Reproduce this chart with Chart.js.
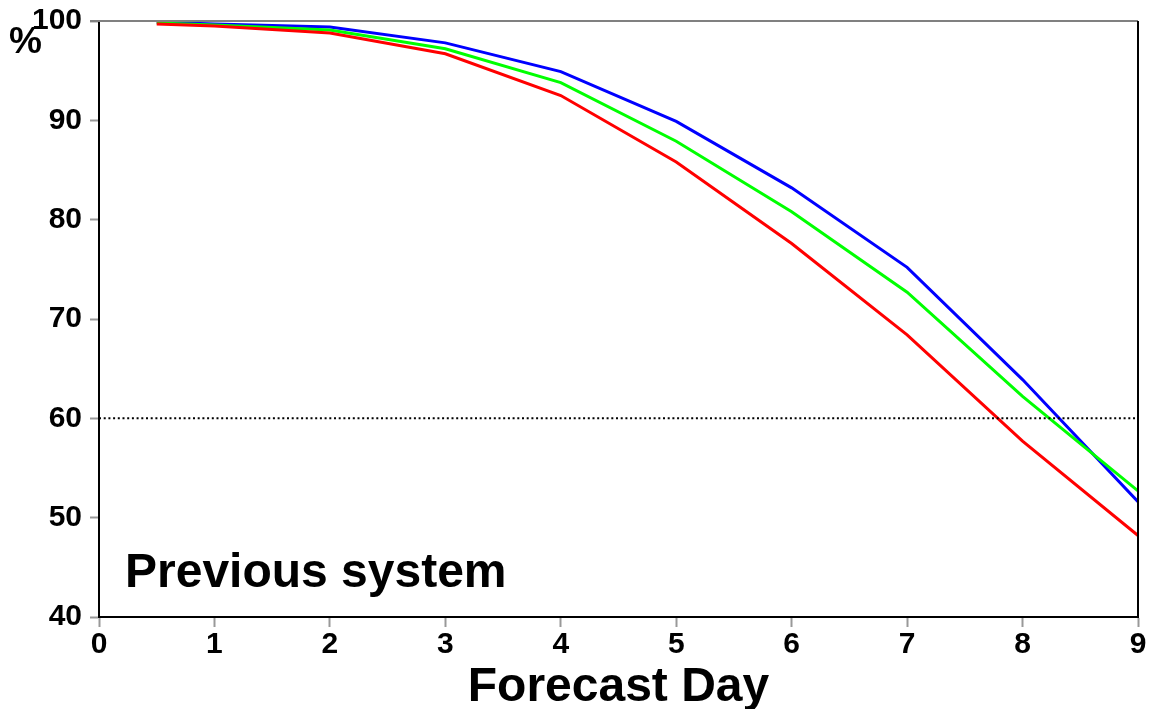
<!DOCTYPE html>
<html>
<head>
<meta charset="utf-8">
<title>Forecast Day</title>
<script src="https://cdn.jsdelivr.net/npm/chart.js@4/dist/chart.umd.min.js"></script>
<style>
  html, body { margin: 0; padding: 0; background: #fff; }
  #wrap { width: 1153px; height: 709px; }
</style>
</head>
<body>
<div id="wrap"><canvas id="chart" width="1153" height="709"></canvas></div>
<script>
// Forecast days and scores (%)
const days = [0.5, 1, 2, 3, 4, 5, 6, 7, 8, 9];
const blueScores  = [99.9, 99.7, 99.4, 97.8, 94.9, 89.9, 83.2, 75.2, 63.9, 51.6];
const greenScores = [99.8, 99.6, 99.1, 97.2, 93.8, 87.9, 80.8, 72.7, 62.2, 52.7];
const redScores   = [99.7, 99.5, 98.8, 96.7, 92.5, 85.8, 77.6, 68.4, 57.7, 48.2];
const refLevel = 60;
const xTicks = [0, 1, 2, 3, 4, 5, 6, 7, 8, 9];
const yTicks = [40, 50, 60, 70, 80, 90, 100];

const FONT = 'Liberation Sans, Arial, Helvetica, sans-serif';

function toPoints(values) {
    return days.map((d, i) => ({ x: d, y: values[i] }));
}

// Frame lines (gray top, black right) and text labels
const framePlugin = {
    id: 'frame',
    afterDraw(chart) {
        const { ctx, chartArea } = chart;
        ctx.save();
        ctx.lineWidth = 2;
        ctx.strokeStyle = '#808080';
        ctx.beginPath();
        ctx.moveTo(chartArea.left - 9, chartArea.top);
        ctx.lineTo(chartArea.right, chartArea.top);
        ctx.stroke();
        ctx.strokeStyle = '#000';
        ctx.beginPath();
        ctx.moveTo(chartArea.right, chartArea.top);
        ctx.lineTo(chartArea.right, chartArea.bottom);
        ctx.stroke();

        ctx.fillStyle = '#000';
        ctx.textAlign = 'left';
        ctx.textBaseline = 'alphabetic';
        ctx.font = 'bold 48px ' + FONT;
        ctx.fillText('Previous system', chartArea.left + 26, chartArea.bottom - 30);
        ctx.font = 'bold 37px ' + FONT;
        ctx.fillText('%', 9, 53);
        ctx.restore();
    }
};

const ctx = document.getElementById('chart').getContext('2d');
new Chart(ctx, {
    type: 'line',
    data: {
        datasets: [
            {
                label: 'ref',
                data: [{ x: 0, y: refLevel }, { x: 9, y: refLevel }],
                borderColor: '#000',
                borderWidth: 2,
                borderDash: [2, 2.7],
                pointRadius: 0
            },
            {
                label: 'red',
                data: toPoints(redScores),
                borderColor: '#ff0000',
                borderWidth: 3,
                pointRadius: 0,
                tension: 0
            },
            {
                label: 'green',
                data: toPoints(greenScores),
                borderColor: '#00ff00',
                borderWidth: 3,
                pointRadius: 0,
                tension: 0
            },
            {
                label: 'blue',
                data: toPoints(blueScores),
                borderColor: '#0000ff',
                borderWidth: 3,
                pointRadius: 0,
                tension: 0
            }
        ]
    },
    options: {
        responsive: false,
        animation: false,
        layout: { padding: { top: 21, right: 15, left: 0, bottom: 0 } },
        plugins: {
            legend: { display: false },
            tooltip: { enabled: false }
        },
        scales: {
            x: {
                type: 'linear',
                min: 0,
                max: 9,
                afterBuildTicks(scale) {
                    scale.ticks = xTicks.map(v => ({ value: v }));
                },
                afterFit(scale) { scale.height = 92; },
                border: { color: '#000', width: 2 },
                grid: {
                    drawOnChartArea: false,
                    drawTicks: true,
                    tickLength: 10,
                    tickWidth: 2,
                    tickColor: '#999'
                },
                ticks: {
                    color: '#000',
                    padding: 0,
                    maxRotation: 0,
                    font: { family: FONT, size: 30, weight: 'bold' }
                },
                title: {
                    display: true,
                    text: 'Forecast Day',
                    color: '#000',
                    padding: { top: 0, bottom: 0 },
                    font: { family: FONT, size: 48, weight: 'bold', lineHeight: 0.9 }
                }
            },
            y: {
                min: 40,
                max: 100,
                afterBuildTicks(scale) {
                    scale.ticks = yTicks.map(v => ({ value: v }));
                },
                afterFit(scale) {
                    scale.width = 99;
                    scale.paddingTop = 0;
                    scale.paddingBottom = 0;
                },
                border: { color: '#000', width: 2 },
                grid: {
                    drawOnChartArea: false,
                    drawTicks: true,
                    tickLength: 9,
                    tickWidth: 2,
                    tickColor: '#999'
                },
                ticks: {
                    color: '#000',
                    padding: 8,
                    font: { family: FONT, size: 30, weight: 'bold' }
                }
            }
        }
    },
    plugins: [framePlugin]
});
</script>
</body>
</html>
